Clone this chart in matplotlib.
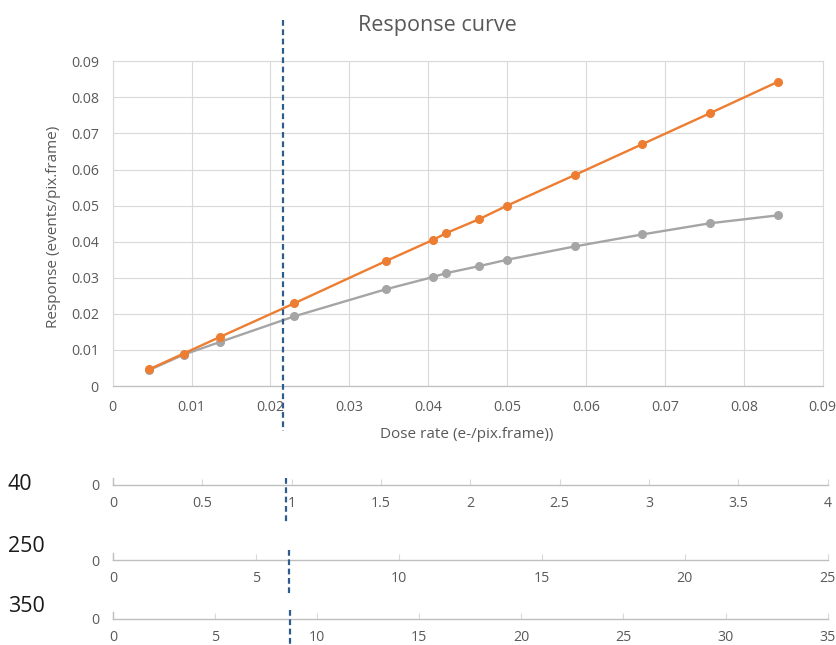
import matplotlib
matplotlib.use("Agg")
import matplotlib.pyplot as plt
from matplotlib.transforms import blended_transform_factory

plt.rcParams['font.family'] = ['Open Sans', 'DejaVu Sans']

# ---- data ----
dose_rate = [0.0046, 0.0090, 0.0136, 0.0230, 0.0346, 0.0406, 0.0423,
             0.0464, 0.0500, 0.0586, 0.0671, 0.0757, 0.0843]
response_ideal = [0.0046, 0.0090, 0.0136, 0.0229, 0.0346, 0.0405, 0.0424,
                  0.0462, 0.0500, 0.0585, 0.0670, 0.0756, 0.0843]
response_meas = [0.0044, 0.0087, 0.0122, 0.0193, 0.0268, 0.0302, 0.0313,
                 0.0332, 0.0350, 0.0387, 0.0420, 0.0451, 0.0473]
threshold_dose = 0.0216

x_ticks = [0, 0.01, 0.02, 0.03, 0.04, 0.05, 0.06, 0.07, 0.08, 0.09]
y_ticks = [0, 0.01, 0.02, 0.03, 0.04, 0.05, 0.06, 0.07, 0.08, 0.09]

scale_labels = ["40", "250", "350"]
scale_max = [4, 25, 35]
scale_ticks = [[0, 0.5, 1, 1.5, 2, 2.5, 3, 3.5, 4],
               [0, 5, 10, 15, 20, 25],
               [0, 5, 10, 15, 20, 25, 30, 35]]
scale_tick_labels = [["0", "0.5", "1", "1.5", "2", "2.5", "3", "3.5", "4"],
                     ["0", "5", "10", "15", "20", "25"],
                     ["0", "5", "10", "15", "20", "25", "30", "35"]]
scale_threshold = [0.967, 6.17, 8.65]

# ---- style ----
W, H = 837, 645
TXT = "#595959"
GRID = "#D9D9D9"
AXC = "#BFBFBF"
ORANGE = "#ED7D31"
GRAY = "#A5A5A5"
DASH = "#2F5C8F"
TS = 10.2
LS = 11.0

fig = plt.figure(figsize=(W / 100, H / 100), dpi=100)

def fx(px):
    return px / W

def fy(py):
    return 1 - py / H

# main axes
ax = fig.add_axes([fx(112.7), fy(386), fx(822.7) - fx(112.7), fy(61.3) - fy(386)])
ax.set_xlim(0, 0.09)
ax.set_ylim(0, 0.09)
ax.set_xticks(x_ticks)
ax.set_yticks(y_ticks)
ax.set_xticklabels([f"{v:g}" for v in x_ticks])
ax.set_yticklabels([f"{v:g}" for v in y_ticks])
ax.grid(True, color=GRID, lw=0.8)
ax.set_axisbelow(True)
for s in ["top", "right", "left"]:
    ax.spines[s].set_color(GRID)
    ax.spines[s].set_linewidth(0.8)
ax.spines["bottom"].set_color(AXC)
ax.spines["bottom"].set_linewidth(0.9)
ax.tick_params(axis="both", length=0, labelsize=TS, labelcolor=TXT)
ax.tick_params(axis="x", pad=10)
ax.tick_params(axis="y", pad=10)

ax.plot(dose_rate, response_meas, color=GRAY, lw=1.7, marker="o", ms=5.5, zorder=3)
ax.plot(dose_rate, response_ideal, color=ORANGE, lw=1.7, marker="o", ms=5.5, zorder=4)

fig.text(fx(437), fy(26), "Response curve", fontsize=15.5, color=TXT,
         ha="center", va="center")
fig.text(fx(467), fy(435), "Dose rate (e-/pix.frame))", fontsize=LS, color=TXT,
         ha="center", va="center")
fig.text(fx(54), fy(227), "Response (events/pix.frame)", fontsize=LS, color=TXT,
         ha="center", va="center", rotation=90)

# dashed threshold line in main chart
tr = blended_transform_factory(ax.transData, fig.transFigure)
ax.plot([threshold_dose, threshold_dose], [fy(20), fy(431)], transform=tr,
        color=DASH, lw=1.6, ls=(0, (2.6, 1.6)), clip_on=False, zorder=6)

# bottom scale axes
baselines = [485, 560, 619]
label_y = [485, 547, 607]
tops = [478, 550, 610]
bots = [522, 593, 645]
for i in range(3):
    b = baselines[i]
    a = fig.add_axes([fx(113), fy(b), fx(827.7) - fx(113), fy(b - 7) - fy(b)])
    a.set_xlim(0, scale_max[i])
    a.set_ylim(0, 1)
    a.patch.set_alpha(0)
    a.set_xticks(scale_ticks[i])
    a.set_xticklabels(scale_tick_labels[i])
    a.set_yticks([0])
    a.set_yticklabels(["0"])
    for s in ["top", "right"]:
        a.spines[s].set_visible(False)
    a.spines["bottom"].set_color(AXC)
    a.spines["left"].set_color(AXC)
    a.spines["bottom"].set_linewidth(1.0)
    a.spines["left"].set_linewidth(1.0)
    a.tick_params(axis="x", direction="in", length=4.5, color=GRID, width=0.8,
                  labelsize=TS, labelcolor=TXT, pad=8)
    a.tick_params(axis="y", length=0, labelsize=TS, labelcolor=TXT, pad=10)
    tb = blended_transform_factory(a.transData, fig.transFigure)
    a.plot([scale_threshold[i], scale_threshold[i]], [fy(tops[i]), fy(bots[i])],
           transform=tb, color=DASH, lw=1.6, ls=(0, (2.6, 1.6)), clip_on=False, zorder=6)
    fig.text(fx(8), fy(label_y[i]), scale_labels[i], fontsize=15.5, color="#1a1a1a",
             ha="left", va="center")

fig.savefig("out.png", dpi=100)
